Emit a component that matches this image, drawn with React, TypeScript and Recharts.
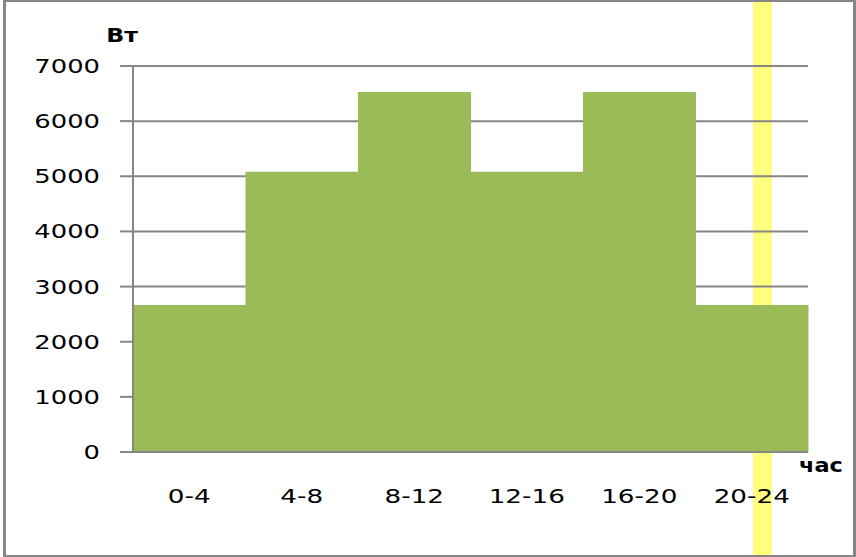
import React from 'react';
import { BarChart, Bar, XAxis, YAxis, CartesianGrid, Label } from 'recharts';

const hours = ['0-4', '4-8', '8-12', '12-16', '16-20', '20-24'];
const watts = [2667, 5080, 6530, 5080, 6530, 2667];
const yTicks = [0, 1000, 2000, 3000, 4000, 5000, 6000, 7000];

const data = hours.map((h, i) => ({ hour: h, value: watts[i] }));

const GRAY = '#868686';
const FONT = '"DejaVu Sans", Verdana, sans-serif';

// Excel-style stretched tick text
const YTick = (props: any) => {
  const { x, y, payload } = props;
  return (
    <text
      transform={`translate(${x},${y}) scale(1.36,1)`}
      textAnchor="end"
      dy={7}
      fontSize={19}
      fontFamily={FONT}
      fill="#000"
    >
      {payload.value}
    </text>
  );
};

const XTick = (props: any) => {
  const { x, y, payload } = props;
  return (
    <text
      transform={`translate(${x},${y}) scale(1.38,1)`}
      textAnchor="middle"
      dy={43}
      fontSize={19}
      fontFamily={FONT}
      fill="#000"
    >
      {payload.value}
    </text>
  );
};

const UnitY = (props: any) => {
  const { viewBox } = props;
  return (
    <text
      transform={`translate(${viewBox.x + viewBox.width - 11},${viewBox.y - 31}) scale(1.18,1)`}
      textAnchor="middle"
      dy={7}
      fontSize={20}
      fontWeight="bold"
      fontFamily={FONT}
      fill="#000"
    >
      Вт
    </text>
  );
};

const UnitX = (props: any) => {
  const { viewBox } = props;
  return (
    <text
      transform={`translate(${viewBox.x + viewBox.width + 13},${viewBox.y + 13}) scale(1.18,1)`}
      textAnchor="middle"
      dy={7}
      fontSize={19}
      fontWeight="bold"
      fontFamily={FONT}
      fill="#000"
    >
      час
    </text>
  );
};

export default function App() {
  return (
    <div style={{ position: 'absolute', left: 0, top: 0, width: 856, height: 557, background: '#fff' }}>
      {/* yellow highlight strip behind the chart */}
      <div style={{ position: 'absolute', left: 753, top: 0, width: 19, height: 557, background: '#ffff7f' }} />
      {/* outer frame */}
      <div
        style={{
          position: 'absolute',
          left: 3,
          top: 0,
          width: 853,
          height: 557,
          boxSizing: 'border-box',
          borderLeft: `3px solid ${GRAY}`,
          borderRight: `3px solid ${GRAY}`,
          borderTop: `2px solid ${GRAY}`,
          borderBottom: `2px solid ${GRAY}`,
        }}
      />
      <div style={{ position: 'absolute', left: 0, top: 0 }}>
        <BarChart
          width={856}
          height={557}
          data={data}
          margin={{ top: 66, right: 48, bottom: 0, left: 0 }}
          barCategoryGap={0}
        >
          <CartesianGrid vertical={false} stroke={GRAY} strokeWidth={2} />
          <XAxis
            dataKey="hour"
            height={105}
            tickLine={false}
            axisLine={{ stroke: GRAY, strokeWidth: 2 }}
            tick={<XTick />}
            interval={0}
          >
            <Label content={<UnitX />} />
          </XAxis>
          <YAxis
            width={133}
            domain={[0, 7000]}
            ticks={yTicks}
            interval={0}
            tickSize={13}
            tickMargin={20}
            tickLine={{ stroke: GRAY, strokeWidth: 2 }}
            axisLine={{ stroke: GRAY, strokeWidth: 2 }}
            tick={<YTick />}
          >
            <Label content={<UnitY />} />
          </YAxis>
          <Bar dataKey="value" fill="#9bbb59" isAnimationActive={false} />
        </BarChart>
      </div>
    </div>
  );
}
